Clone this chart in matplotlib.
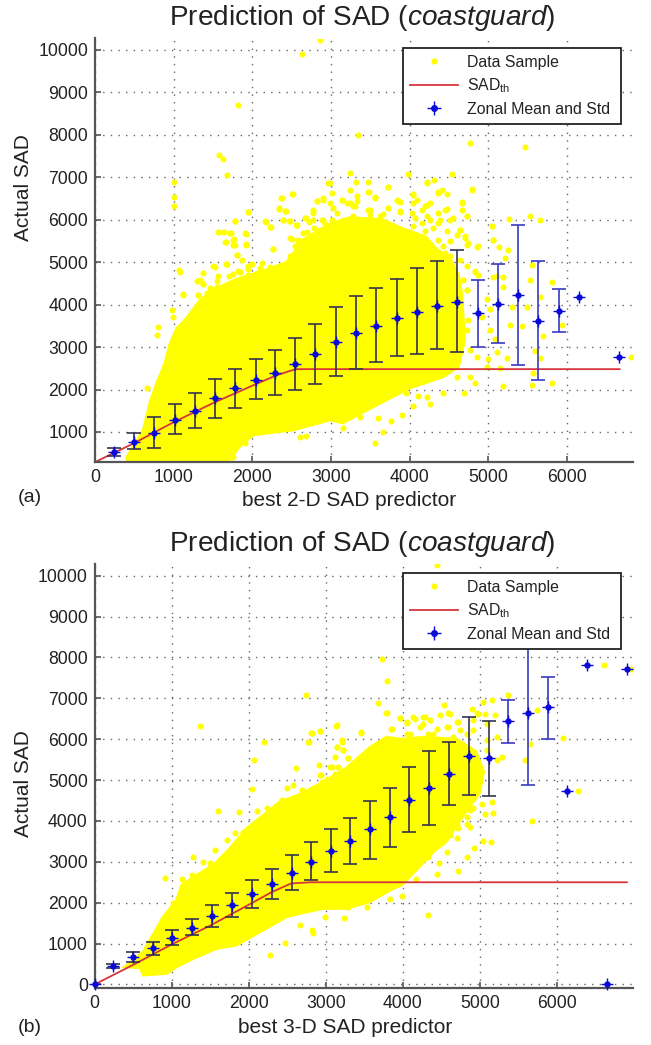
import matplotlib
matplotlib.use("Agg")
from matplotlib import pyplot as plt
from matplotlib.lines import Line2D

W, H = 651, 1045

# panel (a): zonal statistics
a_x = [246, 496, 746, 1013, 1271, 1526, 1784, 2043, 2293, 2543, 2797, 3064, 3323, 3573, 3836,
       4094, 4344, 4599, 4866, 5124, 5378, 5633, 5896, 6150, 6658]
a_mean = [530, 773, 970, 1282, 1485, 1790, 2026, 2222, 2394, 2597, 2832, 3122, 3334, 3506, 3678,
          3827, 3976, 4062, 3803, 4023, 4234, 3624, 3858, 4171, 2770]
a_low = [430, 593, 616, 945, 1086, 1321, 1556, 1767, 1877, 1987, 2120, 2308, 2480, 2637, 2778,
         2832, 2950, 2895, 3005, 3098, 2574, 2229, 3357, 4171, 2770]
a_high = [630, 984, 1360, 1650, 1908, 2237, 2488, 2723, 2934, 3224, 3537, 3937, 4211, 4383, 4610,
          4853, 5017, 5276, 4586, 4962, 5882, 5017, 4375, 4171, 2770]
a_th_x = [0, 500, 1000, 1500, 2000, 2300, 2550, 6670]
a_th_y = [290, 740, 1230, 1680, 2090, 2330, 2480, 2480]

# solid part of the sample cloud, outline
a_body_x = [403, 614, 700, 784, 871, 900, 954, 1039, 1150, 1335, 1500, 1800, 2225, 2437, 2649, 2988, 3242,
            3660, 3900, 4200, 4350, 4514, 4620, 4660, 4700, 4620, 4425, 4005, 3535, 3150,
            2990, 2520, 2010, 1844, 1716, 1700, 420]
a_body_y = [400, 1047, 1700, 2143, 2535, 2691, 3083, 3435, 3650, 4100, 4350, 4600, 4850, 5000, 5530, 5900, 6050,
            6000, 5800, 5600, 5300, 5100, 4700, 4278, 3170, 2533, 2297, 2038, 1590, 1212,
            1283, 1047, 930, 670, 360, 200, 200]
a_pts = [
    (2860, 10244), (2627, 9900), (1818, 8694), (1576, 7519), (1631, 7425), (1678, 7049), (1008, 6900),
    (1008, 6525), (1008, 6329), (1949, 6180), (2513, 6611), (2369, 6517), (2343, 6258), (2419, 6204),
    (1784, 5976), (2169, 5953), (2233, 5820), (2386, 6000), (2470, 5960), (1576, 5710), (1640, 5710),
    (1716, 5687), (1915, 5671), (1771, 5546), (1665, 5468), (1915, 5421), (1780, 5413), (2267, 5310),
    (1801, 5178), (2818, 6430), (2894, 6470), (2966, 6860), (2775, 6157), (2682, 6040), (2555, 5883),
    (2881, 6000), (2500, 5546), (2585, 5413), (2564, 5217), (2700, 5700), (2780, 5800), (2850, 5600),
    (2920, 5900), (2650, 5500), (2600, 5300), (2720, 5950),
    (3348, 7989), (4768, 7801), (5467, 7707), (3242, 7112), (3975, 7073), (4535, 7073), (3319, 6900),
    (3475, 6900), (4217, 6877), (4310, 6940), (3730, 6767), (4789, 6720), (3242, 6705), (3488, 6665),
    (4047, 6603), (4365, 6626), (4408, 6705), (3136, 6470), (3327, 6548), (3242, 6390), (3560, 6532),
    (3836, 6470), (3878, 6415), (4662, 6415), (4047, 6391), (4196, 6313), (4259, 6391), (3306, 6313),
    (3497, 6235), (3730, 6274), (3878, 6196), (4450, 6235), (4662, 6235), (4726, 6078), (5268, 6016),
    (5531, 6078), (5658, 6000), (5043, 5843), (5065, 5530), (5137, 5358), (5255, 5280), (5213, 5100),
    (4853, 5358), (4704, 5608), (4747, 5450), (4641, 5765), (4556, 6039), (3624, 6078), (4069, 6039),
    (4217, 6078), (4386, 6000), (4514, 6000), (3073, 6157), (3263, 6039), (3497, 6000),
    (4832, 4766), (4683, 4570), (5065, 4650), (5192, 4650), (5552, 4923), (5531, 4570), (5806, 4531),
    (4726, 4336), (4980, 4140), (5192, 4414), (5298, 3944), (5488, 3944), (5658, 4179), (5022, 3905),
    (4916, 3709), (4747, 3631), (5276, 3513), (5425, 3498), (5933, 3513), (5700, 3263), (4726, 3396),
    (5022, 3396), (5086, 3200), (5107, 2887), (5001, 2730), (5234, 2746), (5594, 2910), (5658, 2746),
    (6810, 2770), (4768, 2926), (4853, 2770), (5149, 2496), (4980, 2535), (4598, 2300), (4768, 2284),
    (4832, 2159), (5183, 2080), (5552, 2104), (5806, 2159), (5573, 2378), (4696, 1908), (4429, 1908),
    (4259, 1658), (4217, 1830), (4111, 1846), (4047, 1619), (3954, 1908), (3899, 1399), (3759, 1266),
    (3594, 1337), (3369, 1360), (3158, 1102), (3666, 992), (3560, 749),
    (665, 2026), (996, 3709), (975, 3866), (805, 3474), (784, 3279), (1081, 4766), (1123, 4257),
    (1314, 4218), (1229, 3748), (1377, 4492), (1441, 4257), (1547, 4414), (1525, 4884), (1674, 4962),
    (1843, 4766), (2013, 4570), (1949, 4845), (2225, 4884), (2394, 4649), (2521, 4923), (1758, 4727),
    (1335, 4570), (2606, 890), (2682, 914), (2097, 1047), (1907, 734), (1758, 420),
    (3729, 6770), (4225, 6880), (3475, 6645), (3560, 6511), (4365, 6645), (4471, 6613), (4789, 6707),
    (3327, 6432), (3276, 6314), (3857, 6432), (3729, 6275), (4047, 6590), (4090, 6472), (4217, 6354),
    (4153, 6236), (4026, 6157), (3878, 6173), (3475, 6236), (3666, 6141), (3496, 6118), (3284, 6079),
    (4471, 6252), (4365, 6157), (4662, 6393), (4726, 6079), (4259, 6000), (4365, 5921), (4471, 5725),
    (4641, 5764), (4598, 5646), (4704, 5568), (4365, 5528), (4513, 5489), (4725, 5410), (4429, 5371),
    (4874, 5371), (4153, 5921), (4047, 5843), (4195, 5725), (4301, 5803), (5043, 5843), (5064, 5528),
    (4831, 4782), (4874, 4703), (4683, 4585), (4725, 4349), (5107, 4664), (4641, 5056), (4513, 5135),
    (4725, 4900), (4450, 5214),
    (1950, 6173), (1780, 5961), (2162, 5961), (2225, 5827), (2374, 6511), (2509, 6613), (2344, 6275),
    (2425, 6196), (2395, 6000), (2480, 5961), (2564, 5882), (1568, 5709), (1725, 5686), (1908, 5686),
    (2480, 5568), (1653, 5465), (1759, 5528), (1759, 5411), (1920, 5411), (2268, 5308), (2543, 5371),
    (2586, 5528), (2480, 5135), (1802, 5175), (1865, 5041), (1992, 4962), (1950, 4900), (1666, 4962),
    (1505, 4900), (1073, 4805), (2120, 4978), (2098, 4860), (2395, 4900), (2353, 4782), (2437, 4821),
    (1823, 4782), (1378, 4742), (1293, 4562), (1568, 4664), (1547, 4546), (1708, 4664), (1950, 4703),
    (2056, 4742), (2035, 4585), (2225, 4664), (1908, 4467), (1378, 4491), (1463, 4389), (1314, 4231),
    (1124, 4231), (1420, 4271), (1547, 4208), (1653, 4271), (1823, 4428), (1971, 4349), (2141, 4507),
    (2988, 6865), (3009, 6629), (2988, 6393), (2819, 6432), (2903, 6511), (3137, 6472), (3200, 6393),
    (2776, 6236), (3031, 6275), (2670, 6039), (2776, 6000), (2903, 6000), (3009, 6000), (3158, 6000),
    (2649, 5686), (2734, 5607), (2861, 5764),
]

# panel (b): zonal statistics
b_x = [0, 238, 497, 753, 1007, 1263, 1523, 1782, 2042, 2298, 2557, 2808, 3068, 3314, 3573, 3833,
       4084, 4344, 4600, 4859, 5122, 5369, 5629, 5881, 6135, 6391, 6650, 6910]
b_mean = [0, 449, 661, 881, 1142, 1378, 1664, 1933, 2210, 2447, 2724, 2993, 3271, 3515, 3793, 4086,
          4511, 4812, 5144, 5600, 5543, 6457, 6636, 6783, 4731, 7811, 0, 7730]
b_low = [0, 400, 555, 710, 954, 1207, 1411, 1656, 1876, 2088, 2308, 2545, 2749, 2936, 3059, 3361,
         3719, 3899, 4388, 4633, 4612, 5910, 4878, 6016, 4731, 7811, 0, 7730]
b_high = [0, 500, 799, 1044, 1330, 1599, 1941, 2243, 2545, 2814, 3157, 3475, 3793, 4062, 4494, 4796,
          5323, 5715, 5935, 6546, 6449, 6971, 8390, 7517, 4731, 7811, 0, 7730]
b_th_x = [0, 500, 1000, 1500, 2000, 2300, 2550, 2800, 6910]
b_th_y = [0, 480, 980, 1440, 1950, 2260, 2470, 2500, 2500]

b_body_x = [394, 632, 805, 891, 978, 1064, 1129, 1324, 1540, 1757, 1973, 2190, 2406, 2665, 2968, 3271,
            3574, 3790, 3963, 4300, 4700, 4950, 5050, 5000, 4850, 4700, 4569, 4400, 4200, 3985, 3877, 3574,
            3271, 2968, 2665, 2492, 2146, 1843, 1584, 1281, 1064, 935, 632, 589]
b_body_y = [432, 800, 1370, 1656, 1860, 2064, 2431, 2675, 2920, 3328, 3817, 4144, 4470, 4650, 4950, 5300,
            5800, 6050, 6000, 6050, 6000, 5700, 5200, 4700, 4300, 3900, 3500, 3250, 2850, 2431, 2349, 2023,
            1860, 1860, 1737, 1656, 1289, 963, 881, 636, 432, 269, 228, 408]
b_pts = [
    (1372, 6326), (2739, 7093), (2203, 5935), (2068, 5486), (2614, 5307), (2782, 5935), (2813, 6155),
    (2925, 6204), (2912, 5380), (2938, 5119), (3055, 5323), (3012, 5037),
    (4440, 10258), (3734, 7974), (3799, 7419), (3682, 6889), (3782, 6653), (4539, 6832), (4591, 6644),
    (5045, 6914), (5162, 6954), (4894, 6750), (5370, 7077), (5738, 6710), (6616, 7811), (6960, 7730),
    (6084, 6033), (5651, 5894), (5586, 5502), (5283, 5568), (3133, 6326), (3457, 6163), (3206, 5976),
    (3142, 5812), (3293, 5551), (3228, 5731), (3855, 6261), (3964, 6522), (4050, 6408), (4137, 6547),
    (4267, 6547), (4353, 6465), (4223, 6302), (4591, 6302), (4721, 6424), (4915, 6465), (5089, 6383),
    (5197, 6587), (4981, 6628), (4050, 6139), (3855, 5976), (4180, 5976), (4396, 6139), (4656, 6057),
    (4829, 6139), (5089, 5976), (5218, 6057), (5089, 5731), (5218, 5486), (3618, 5731), (3747, 5812),
    (3509, 5568),
    (6279, 4731), (5673, 4005), (5045, 3507), (5145, 3475), (4924, 3344), (4829, 3124), (4721, 2773),
    (4440, 2700), (4474, 2961), (4171, 2569), (3985, 2162), (3834, 2088), (3540, 1900), (3293, 1900),
    (3237, 1631), (4323, 1697), (4613, 3654), (4699, 3573), (4721, 3817), (4872, 3858), (4916, 4307),
    (5175, 4185), (5153, 4454), (4807, 4389), (4829, 4103), (4678, 4103), (4569, 3247), (4353, 3369),
    (4331, 3124),
    (1605, 4242), (1878, 4209), (2103, 4242), (2233, 4323), (2363, 4388), (2428, 4511), (1281, 3124),
    (913, 2594), (1129, 2569), (1411, 2985), (1497, 2961), (1562, 3287), (1714, 3532), (1778, 3287),
    (1822, 3695), (1930, 3736), (1259, 2675), (1021, 1982), (2276, 718), (2471, 1003), (2817, 1330),
    (2830, 1248), (2665, 1452), (2990, 1656), (2038, 4780), (2492, 4796), (2579, 4878), (2687, 4756),
    (2838, 4796),
    (3141, 6343), (2925, 6204), (2816, 6155), (2773, 5935), (3457, 6179), (3206, 5935), (3141, 5812),
    (3228, 5747), (3119, 5568), (3292, 5543), (3076, 5323), (3163, 5323), (3119, 5160), (3357, 5241),
    (2925, 5119), (3206, 5037), (2946, 4956), (3011, 4874), (2795, 4752), (2708, 4630), (3790, 6644),
    (3963, 6530), (4050, 6424), (4158, 6506), (3846, 6261), (4288, 6546), (4266, 6383), (4482, 6587),
    (4612, 6628), (4699, 6424), (4331, 6139), (4093, 6139), (4569, 6302), (4439, 6261), (4742, 6220),
    (4958, 6644), (5067, 6628), (4179, 6016), (4915, 6220), (3487, 5486), (3574, 5568), (3660, 5731),
    (4699, 4100), (4785, 4385), (4872, 4263), (4915, 4548), (5023, 4426), (4569, 4100), (5067, 4181),
    (4828, 3936), (4699, 3936),
]

x_ticks = [0, 1000, 2000, 3000, 4000, 5000, 6000]
a_y_ticks = [1000, 2000, 3000, 4000, 5000, 6000, 7000, 8000, 9000, 10000]
b_y_ticks = [0, 1000, 2000, 3000, 4000, 5000, 6000, 7000, 8000, 9000, 10000]

plt.rcParams["font.family"] = ["Liberation Sans", "DejaVu Sans"]
plt.rcParams["mathtext.fontset"] = "custom"
plt.rcParams["mathtext.rm"] = "Liberation Sans"
plt.rcParams["mathtext.it"] = "Liberation Sans:italic"

TEXT = "#222222"
SPINE = "#555555"
YELLOW = "#ffff00"
RED = "#d8353a"
BLUE = "#3a3ac0"
DARK = "#33334f"
STAR = "#0a0ad8"


def axes_rect(left, right, top, bottom):
    return [left / W, 1 - bottom / H, (right - left) / W, (bottom - top) / H]


def draw_panel(ax, body_x, body_y, pts, th_x, th_y, x, mean, low, high, dark_until):
    ax.fill(body_x, body_y, color=YELLOW, lw=2, zorder=1)
    ax.scatter([p[0] for p in pts], [p[1] for p in pts], s=19, c=YELLOW, lw=0, zorder=1)
    ax.plot(th_x, th_y, color=RED, lw=1.3, zorder=2)
    for xi, m, lo, hi in zip(x, mean, low, high):
        if hi > lo:
            ax.errorbar(xi, m, yerr=[[m - lo], [hi - m]], fmt="none", capsize=4.7, elinewidth=1.2,
                        capthick=1.2, ecolor=DARK if xi < dark_until else BLUE, zorder=3)
    ax.plot(x, mean, ls="none", marker="o", ms=4.6, color=STAR, mew=0, zorder=4, clip_on=False)
    ax.plot(x, mean, ls="none", marker="+", ms=9, color=STAR, mew=1, zorder=4, clip_on=False)


def style_axes(ax, xlim, ylim, y_ticks):
    ax.set_xlim(*xlim)
    ax.set_ylim(*ylim)
    ax.set_xticks(x_ticks)
    ax.set_yticks(y_ticks)
    ax.set_axisbelow(True)
    ax.grid(True, color="#666666", lw=1.0, ls=(0, (1, 4.5)))
    ax.tick_params(direction="in", length=4, width=1.2, color=SPINE, labelsize=12.7,
                   labelcolor=TEXT, pad=5)
    for side in ("top", "right"):
        ax.spines[side].set_visible(False)
    for side in ("left", "bottom"):
        ax.spines[side].set_color(SPINE)
        ax.spines[side].set_linewidth(1.6)


def add_legend(ax, box):
    left, top, right, bottom = box
    handles = [
        Line2D([], [], ls="none", marker="o", ms=4.5, color=YELLOW, mew=0),
        Line2D([], [], color=RED, lw=1.3),
        (Line2D([], [], ls="none", marker="o", ms=5, color=STAR, mew=0),
         Line2D([], [], ls="none", marker="+", ms=10, color=STAR, mew=1)),
    ]
    labels = ["Data Sample", r"SAD$_{\mathrm{th}}$", "Zonal Mean and Std"]
    leg = fig.legend(handles, labels, loc="upper left",
                     bbox_to_anchor=(left / W, 1 - bottom / H, (right - left) / W, (bottom - top) / H),
                     mode="expand", borderaxespad=0, fancybox=False, framealpha=1, edgecolor="#222222",
                     fontsize=11.4, labelcolor=TEXT, borderpad=0.46, labelspacing=0.42,
                     handlelength=3.0, handletextpad=0.6)
    leg.get_frame().set_linewidth(1.3)
    leg.set_zorder(10)


fig = plt.figure(figsize=(W / 100, H / 100), dpi=100)

ax_a = fig.add_axes(axes_rect(95, 633, 38.5, 462.3))
draw_panel(ax_a, a_body_x, a_body_y, a_pts, a_th_x, a_th_y, a_x, a_mean, a_low, a_high, 4700)
style_axes(ax_a, (0, 6840), (285, 10270), a_y_ticks)
add_legend(ax_a, (403, 47.7, 621, 125))

ax_b = fig.add_axes(axes_rect(94.7, 633, 564.3, 987.7))
draw_panel(ax_b, b_body_x, b_body_y, b_pts, b_th_x, b_th_y, b_x, b_mean, b_low, b_high, 5300)
style_axes(ax_b, (0, 6990), (-80, 10280), b_y_ticks)
add_legend(ax_b, (403, 572.7, 621, 650))

for ax, title_y, xlab, xlab_x, xlab_y, ylab_y, tag, tag_y in [
    (ax_a, 18, "best 2-D SAD predictor", 349, 500, 188, "(a)", 497),
    (ax_b, 544, "best 3-D SAD predictor", 345, 1027.5, 783.5, "(b)", 1027),
]:
    fig.text(362 / W, 1 - title_y / H, r"Prediction of SAD ($\mathit{coastguard}$)", fontsize=20.2,
             color=TEXT, ha="center", va="center")
    ax.set_xlabel(xlab, fontsize=15, color=TEXT)
    ax.xaxis.set_label_coords(xlab_x / W, 1 - xlab_y / H, transform=fig.transFigure)
    ax.xaxis.label.set_va("center")
    ax.set_ylabel("Actual SAD", fontsize=15, color=TEXT)
    ax.yaxis.set_label_coords(24 / W, 1 - ylab_y / H, transform=fig.transFigure)
    ax.yaxis.label.set_va("center")
    fig.text(30 / W, 1 - tag_y / H, tag, fontsize=14, color=TEXT, ha="center", va="center")

fig.savefig("out.png", dpi=100)
